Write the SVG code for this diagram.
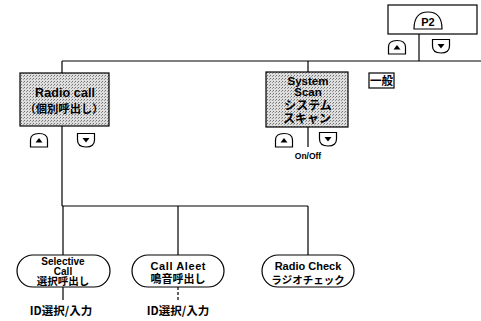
<svg xmlns="http://www.w3.org/2000/svg" xmlns:xlink="http://www.w3.org/1999/xlink" width="481" height="321" viewBox="0 0 481 321">
<style>
.ln{stroke:#000;stroke-width:1.2;fill:none}
.box{stroke:#000;stroke-width:1.2;fill:url(#ht)}
.pill{stroke:#000;stroke-width:1.2;fill:#fff}
.t{font-family:"Liberation Sans","Noto Sans CJK JP",sans-serif;font-weight:bold;text-anchor:middle;fill:#000}
.j{font-family:"Noto Sans CJK JP",sans-serif;font-weight:bold;text-anchor:middle;fill:#000}
</style>
<defs>
<pattern id="ht" width="3" height="3" patternUnits="userSpaceOnUse">
<rect width="3" height="3" fill="#dedede"/>
<rect x="0" y="0" width="1" height="1" fill="#707070"/>
<rect x="2" y="1" width="1" height="1" fill="#959595"/>
</pattern>
<g id="up"><path d="M0.5,14 L0.5,7 Q0.5,0.5 9,0.5 Q17.5,0.5 17.5,7 L17.5,14 Z" fill="#fff" stroke="#000" stroke-width="1.2"/><path d="M5.5,9.5 L9,5 L12.5,9.5 Z" fill="#000"/></g>
<g id="dn"><path d="M0.5,0.5 L0.5,7 Q0.5,14 9,14 Q17.5,14 17.5,7 L17.5,0.5 Z" fill="#fff" stroke="#000" stroke-width="1.2"/><path d="M5.5,5 L12.5,5 L9,9.5 Z" fill="#000"/></g>
</defs>
<g id="connectors">
<path class="ln" d="M62,61 H481"/>
<path class="ln" d="M419,34 V61"/>
<path class="ln" d="M62,61 V73 M62,126 V206 M308,61 V72 M308,127 V147"/>
<path class="ln" d="M62,206 H308 M178,206 V255 M308,206 V255 M63,206 V255"/>
<path class="ln" d="M63,287 V300"/>
<path class="ln" d="M178,287 V300" stroke-dasharray="3,2"/>
</g>
<g id="p2">
<rect x="388" y="5" width="89" height="29" fill="#fff" stroke="#000" stroke-width="1.2"/>
<path d="M414,29 Q414,12 428,12 Q442,12 442,29 Z" fill="#fff" stroke="#000" stroke-width="1.2"/>
<text class="t" x="428" y="26" font-size="11">P2</text>
<use xlink:href="#up" x="388" y="40"/>
<use xlink:href="#dn" x="432" y="39"/>
</g>
<g id="ippan">
<rect x="369" y="73" width="25" height="15" fill="#fff" stroke="#000" stroke-width="1.2"/>
<text class="j" x="381.5" y="85" font-size="11.5">一般</text>
</g>
<g id="radiocall">
<rect class="box" x="20" y="73" width="89" height="53"/>
<text class="t" x="65" y="97" font-size="12.5" textLength="60">Radio call</text>
<text class="j" x="64" y="113" font-size="11.3">（個別呼出し）</text>
<use xlink:href="#up" x="30" y="133"/>
<use xlink:href="#dn" x="77" y="133"/>
</g>
<g id="systemscan">
<rect class="box" x="266" y="72" width="82" height="55"/>
<text class="t" x="308" y="84.5" font-size="11.5">System</text>
<text class="t" x="308" y="96" font-size="11.5">Scan</text>
<text class="j" x="308" y="109.5" font-size="12">システム</text>
<text class="j" x="307" y="122.5" font-size="12">スキャン</text>
<use xlink:href="#up" x="275" y="133"/>
<use xlink:href="#dn" x="319" y="132"/>
<text class="t" x="308" y="159" font-size="8.5">On/Off</text>
</g>
<g id="selective">
<rect class="pill" x="17" y="255" width="93" height="32" rx="16"/>
<text class="t" x="63" y="265" font-size="10">Selective</text>
<text class="t" x="63" y="274.5" font-size="10">Call</text>
<text class="j" x="63" y="285" font-size="10.5">選択呼出し</text>
<text class="j" x="61" y="315" font-size="11.5">ID選択/入力</text>
</g>
<g id="callaleet">
<rect class="pill" x="132" y="255" width="92" height="32" rx="16"/>
<text class="t" x="178" y="270" font-size="11" textLength="55">Call Aleet</text>
<text class="j" x="178" y="283" font-size="11">鳴音呼出し</text>
<text class="j" x="178" y="315" font-size="11.5">ID選択/入力</text>
</g>
<g id="radiocheck">
<rect class="pill" x="262" y="255" width="92" height="32" rx="16"/>
<text class="t" x="308" y="270" font-size="11">Radio Check</text>
<text class="j" x="308" y="284" font-size="10.5">ラジオチェック</text>
</g>
</svg>
